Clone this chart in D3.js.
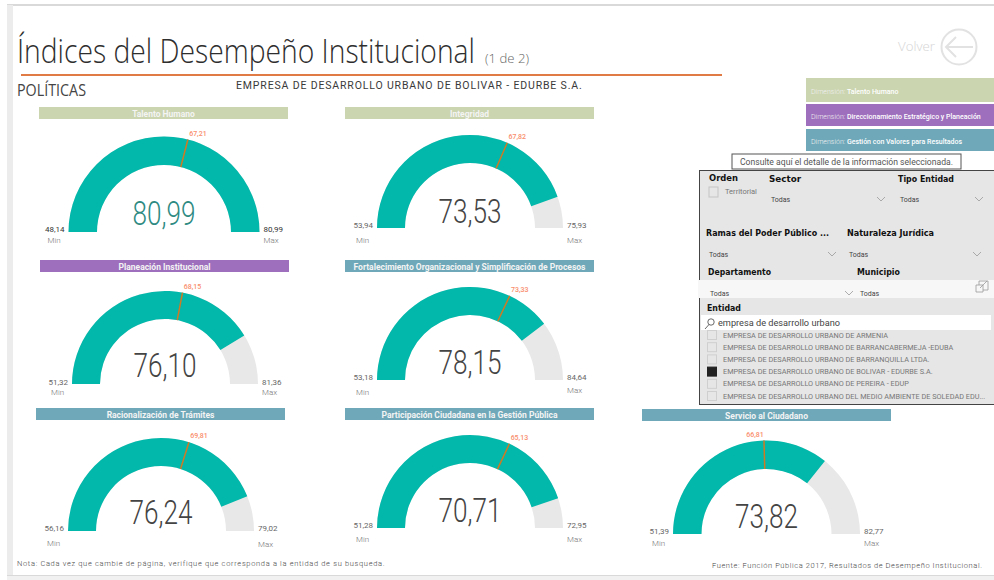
<!DOCTYPE html>
<html>
<head>
<meta charset="utf-8">
<script src="https://d3js.org/d3.v7.min.js"></script>
<style>
  html, body { margin: 0; padding: 0; background: #fff; }
  svg { display: block; }
  text { font-family: Roboto, sans-serif; }
</style>
</head>
<body>
<div id="chart"></div>
<script>
// Data ----------------------------------------------------------
const policies = [
  "Talento Humano", "Integridad", "Planeación Institucional",
  "Fortalecimiento Organizacional y Simplificación de Procesos",
  "Racionalización de Trámites",
  "Participación Ciudadana en la Gestión Pública", "Servicio al Ciudadano"
];
const scores = [80.99, 73.53, 76.10, 78.15, 76.24, 70.71, 73.82];
const minima = [48.14, 53.94, 51.32, 53.18, 56.16, 51.28, 51.39];
const maxima = [80.99, 75.93, 81.36, 84.64, 79.02, 72.95, 82.77];
const targets = [67.21, 67.82, 68.15, 73.33, 69.81, 65.13, 66.81];

const dimensionNames = ["Talento Humano", "Direccionamiento Estratégico y Planeación", "Gestión con Valores para Resultados"];
const entities = [
  "EMPRESA DE DESARROLLO URBANO DE ARMENIA",
  "EMPRESA DE DESARROLLO URBANO DE BARRANCABERMEJA -EDUBA",
  "EMPRESA DE DESARROLLO URBANO DE BARRANQUILLA LTDA.",
  "EMPRESA DE DESARROLLO URBANO DE BOLIVAR - EDURBE S.A.",
  "EMPRESA DE DESARROLLO URBANO DE PEREIRA - EDUP",
  "EMPRESA DE DESARROLLO URBANO DEL MEDIO AMBIENTE DE SOLEDAD EDU..."
];
const selectedEntity = 3;

// Layout, one row per gauge ---------------------------------------
const GREEN = "#cbd5b0", PURPLE = "#9e6fbd", BLUE = "#6ea8b9";
const layout = [
  { cx: 164, cy: 232, R: 95.5, r: 67, bx: 39,  by: 107, vy: 225, ly: 229, minY: 240, maxY: 240, color: GREEN },
  { cx: 470, cy: 228, R: 93, r: 65, bx: 345, by: 107, vy: 223, ly: 225, minY: 240, maxY: 240, color: GREEN },
  { cx: 165, cy: 384, R: 93, r: 65, bx: 40,  by: 260, vy: 377, ly: 382, minY: 392, maxY: 392, color: PURPLE },
  { cx: 470, cy: 380, R: 93, r: 65, bx: 345, by: 260, vy: 374, ly: 377, minY: 392, maxY: 390, color: BLUE },
  { cx: 161, cy: 531, R: 93, r: 65, bx: 36,  by: 408, vy: 524, ly: 528, minY: 543, maxY: 544, color: BLUE },
  { cx: 470, cy: 528, R: 93, r: 65, bx: 345, by: 408, vy: 522, ly: 525, minY: 539, maxY: 539, color: BLUE },
  { cx: 766.5, cy: 534, R: 93.5, r: 65, bx: 642, by: 409, vy: 528, ly: 531, minY: 543, maxY: 543, color: BLUE }
];

const W = 994, H = 580;
const svg = d3.select("#chart").append("svg").attr("width", W).attr("height", H);
const fmt = d3.formatLocale({ decimal: ",", thousands: ".", grouping: [3], currency: ["$", ""] }).format(".2f");

function label(parent, x, y, str, opts) {
  const o = opts || {};
  const t = parent.append("text")
    .attr("x", x).attr("y", y)
    .attr("text-anchor", o.anchor || "start")
    .style("font-size", (o.size || 8) + "px")
    .style("font-weight", o.weight || 400)
    .style("fill", o.fill || "#666")
    .text(str);
  if (o.family) t.style("font-family", o.family);
  if (o.spacing) t.style("letter-spacing", o.spacing + "px");
  if (o.len) t.attr("textLength", o.len).attr("lengthAdjust", "spacingAndGlyphs");
  return t;
}

// Report frame ----------------------------------------------------
svg.append("rect").attr("x", 7).attr("y", 4).attr("width", W - 7).attr("height", 2).attr("fill", "#d9d9d9");
svg.append("rect").attr("x", 7).attr("y", 5).attr("width", 6).attr("height", 571).attr("fill", "#ececec");
svg.append("rect").attr("x", 7).attr("y", 575).attr("width", W - 7).attr("height", 5).attr("fill", "#f1f1f1");
svg.append("rect").attr("x", 7).attr("y", 575).attr("width", W - 7).attr("height", 1).attr("fill", "#d9d9d9");

// Header ----------------------------------------------------------
const title = label(svg, 0, 0, "Índices del Desempeño Institucional", { size: 33, weight: 300, family: "'Open Sans'", fill: "#2e2e2e" });
// squeeze the title to its width in the reference
title.attr("transform", `translate(17,63) scale(${458 / title.node().getComputedTextLength()},1)`);
label(svg, 485, 63, "(1 de 2)", { size: 12, weight: 300, family: "'Open Sans'", fill: "#666", len: 44 });
svg.append("rect").attr("x", 21).attr("y", 74).attr("width", 701).attr("height", 2).attr("fill", "#e07b45");
label(svg, 17, 96, "POLÍTICAS", { size: 15.5, weight: 400, family: "'Open Sans'", fill: "#444", len: 69 });
label(svg, 236, 89, "EMPRESA DE DESARROLLO URBANO DE BOLIVAR - EDURBE S.A.", { size: 10.5, weight: 400, fill: "#3a3a3a", spacing: 0.85 });

label(svg, 898, 51, "Volver", { size: 13, weight: 300, family: "'Open Sans'", fill: "#d4d4d4", len: 37 });
svg.append("circle").attr("cx", 959).attr("cy", 47).attr("r", 17.5)
  .attr("fill", "none").attr("stroke", "#e2e2e2").attr("stroke-width", 2);
svg.append("path").attr("d", "M973 47H946M956 37L946 47L956 57")
  .attr("fill", "none").attr("stroke", "#e2e2e2").attr("stroke-width", 2);

// Dimension buttons -----------------------------------------------
const buttonY = [78, 104, 129], buttonH = [24, 22, 22], buttonColor = [GREEN, PURPLE, BLUE];
dimensionNames.forEach((name, i) => {
  svg.append("rect").attr("x", 806).attr("y", buttonY[i]).attr("width", W - 806).attr("height", buttonH[i]).attr("fill", buttonColor[i]);
  const t = label(svg, 811, buttonY[i] + buttonH[i] / 2 + 3.5, "Dimensión: ", { size: 7, weight: 300, fill: "#f0f0f0" });
  t.append("tspan").style("fill", "#fff").style("font-weight", 500).text(name);
});

// Gauges ----------------------------------------------------------
const gauges = svg.selectAll("g.gauge")
  .data(policies.map((name, i) => ({ name, i })))
  .enter().append("g").attr("class", "gauge");

gauges.each(function (d) {
  const g = d3.select(this);
  const l = layout[d.i];
  const angle = d3.scaleLinear().domain([minima[d.i], maxima[d.i]]).range([-Math.PI / 2, Math.PI / 2]);
  const arc = d3.arc().innerRadius(l.r).outerRadius(l.R);

  // title bar
  g.append("rect").attr("x", l.bx).attr("y", l.by).attr("width", 249).attr("height", 12).attr("fill", l.color);
  label(g, l.bx + 124.5, l.by + 9.5, d.name, { size: 8.5, weight: 700, fill: "#f4f4f4", anchor: "middle" });

  const c = g.append("g").attr("transform", `translate(${l.cx},${l.cy})`);
  c.append("path").attr("fill", "#e8e8e8")
    .attr("d", arc({ startAngle: angle(minima[d.i]), endAngle: angle(maxima[d.i]) }));
  c.append("path").attr("fill", "#01b8aa")
    .attr("d", arc({ startAngle: angle(minima[d.i]), endAngle: angle(scores[d.i]) }));

  // target tick
  const a = angle(targets[d.i]);
  c.append("line")
    .attr("x1", l.r * Math.sin(a)).attr("y1", -l.r * Math.cos(a))
    .attr("x2", l.R * Math.sin(a)).attr("y2", -l.R * Math.cos(a))
    .attr("stroke", "#d07a24").attr("stroke-width", 1.5);
  const side = a > 0 ? 10 : -9;
  label(c, l.R * Math.sin(a) + side, -l.R * Math.cos(a) - 4, fmt(targets[d.i]), { size: 7, weight: 500, fill: "#f98d6c", anchor: "middle" });

  // value and range labels
  label(svg, l.cx, l.vy, fmt(scores[d.i]), { size: 33, weight: 300, anchor: "middle", len: 63, fill: d.i === 0 ? "#2d8a82" : "#444" });
  const rangeFill = d.i === 0 ? "#333" : "#666";
  label(svg, l.cx - l.R - 4, l.ly + 3, fmt(minima[d.i]), { size: 8, anchor: "end", fill: rangeFill });
  label(svg, l.cx + l.R + 4, l.ly + 3, fmt(maxima[d.i]), { size: 8, fill: rangeFill });
  label(svg, l.cx - l.R - 21, l.minY + 3, "Min", { size: 8, weight: 300, fill: "#777" });
  label(svg, l.cx + l.R + 4, l.maxY + 3, "Max", { size: 8, weight: 300, fill: "#777" });
});

// Filter panel ----------------------------------------------------
svg.append("rect").attr("x", 732).attr("y", 154).attr("width", 229).attr("height", 15)
  .attr("fill", "#fff").attr("stroke", "#555");
label(svg, 846.5, 164.5, "Consulte aquí el detalle de la información seleccionada.", { size: 8.5, anchor: "middle", fill: "#555", len: 213 });

svg.append("rect").attr("x", 699.5).attr("y", 170.5).attr("width", W - 699).attr("height", 234)
  .attr("fill", "#e6e6e6").attr("stroke", "#444");
svg.append("rect").attr("x", 698).attr("y", 280).attr("width", W - 698).attr("height", 18).attr("fill", "#f7f7f7");

const panelHeads = [
  ["Orden", 709, 181, 29], ["Sector", 769, 182, 32], ["Tipo Entidad", 898, 182, 56],
  ["Ramas del Poder Público ...", 706, 236, 123], ["Naturaleza Jurídica", 847, 236, 87],
  ["Departamento", 708, 275, 63], ["Municipio", 857, 275, 43], ["Entidad", 707, 311, 34]
];
panelHeads.forEach(p => label(svg, p[1], p[2], p[0], { size: 8.5, weight: 700, family: "'DejaVu Sans'", fill: "#111", len: p[3] }));

const dropdowns = [
  [771, 202, 881], [900, 202, 979], [709, 257, 832], [849, 257, 977], [710, 296, 849], [860, 296, null]
];
dropdowns.forEach(p => {
  label(svg, p[0], p[1], "Todas", { size: 7, fill: "#444" });
  if (p[2] !== null) {
    svg.append("path").attr("d", `M${p[2] - 4} ${p[1] - 5}l4 4l4 -4`)
      .attr("fill", "none").attr("stroke", "#999").attr("stroke-width", 0.8);
  }
});

svg.append("rect").attr("x", 709).attr("y", 187).attr("width", 9).attr("height", 10).attr("fill", "#e6e6e6").attr("stroke", "#c4c4c4");
label(svg, 725, 194, "Territorial", { size: 7.5, fill: "#777" });

// expand icon
svg.append("path").attr("d", "M976 292h7v-7h-7zM979 285v-4h9M988 281v9h-5M980 288l7 -7")
  .attr("fill", "none").attr("stroke", "#999").attr("stroke-width", 0.8);

// search box
svg.append("rect").attr("x", 701).attr("y", 315).attr("width", 290).attr("height", 15).attr("fill", "#fff");
svg.append("circle").attr("cx", 711).attr("cy", 322).attr("r", 3.2).attr("fill", "none").attr("stroke", "#444").attr("stroke-width", 0.8);
svg.append("line").attr("x1", 709).attr("y1", 324.5).attr("x2", 705).attr("y2", 329).attr("stroke", "#444").attr("stroke-width", 0.8);
label(svg, 718, 326, "empresa de desarrollo urbano", { size: 9, fill: "#444", len: 122 });

// entity list
const rowY = d3.scalePoint().domain(d3.range(entities.length)).range([335, 396]);
entities.forEach((name, i) => {
  svg.append("rect").attr("x", 707.5).attr("y", rowY(i) - 4.5).attr("width", 9).attr("height", 9)
    .attr("fill", i === selectedEntity ? "#222" : "#e6e6e6")
    .attr("stroke", i === selectedEntity ? "#222" : "#cfcfcf");
  label(svg, 723, rowY(i) + 2.5, name, { size: 7.3, fill: "#777" });
});

// Footer notes ----------------------------------------------------
label(svg, 17, 566, "Nota: Cada vez que cambie de página, verifique que corresponda a la entidad de su busqueda.", { size: 7.5, weight: 300, fill: "#444", spacing: 0.67 });
label(svg, 712, 568, "Fuente: Función Pública 2017, Resultados de Desempeño Institucional.", { size: 7.5, weight: 300, fill: "#444", spacing: 0.57 });
</script>
</body>
</html>
